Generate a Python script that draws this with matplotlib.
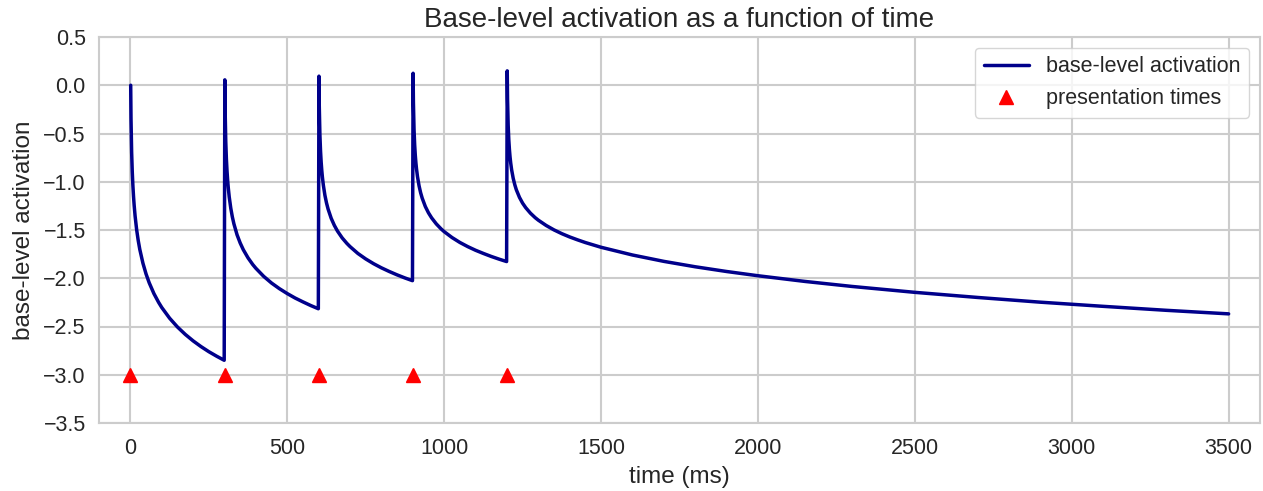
import matplotlib
matplotlib.use("Agg")
import matplotlib.pyplot as plt
import seaborn as sns

# presentation times of the item (ms)
presentation_times = [0, 300, 600, 900, 1200]
marker_level = [-3.0, -3.0, -3.0, -3.0, -3.0]

# time since the latest presentation at which the curve was read (ms)
offsets = [1, 2, 3, 4, 5, 6, 8, 10, 12, 15, 20, 25, 30, 40, 50, 60, 75, 90,
           100, 125, 150, 175, 200, 225, 250, 275, 299]

# base-level activation, one list per interval
seg1_b = [0.0, -0.347, -0.549, -0.693, -0.805, -0.896, -1.040, -1.151, -1.242,
          -1.354, -1.498, -1.609, -1.701, -1.844, -1.956, -2.047, -2.159, -2.250,
          -2.303, -2.414, -2.505, -2.582, -2.649, -2.708, -2.761, -2.808, -2.850]
seg2_b = [0.056, -0.268, -0.454, -0.585, -0.684, -0.765, -0.890, -0.986, -1.063,
          -1.157, -1.275, -1.365, -1.437, -1.550, -1.635, -1.705, -1.789, -1.858,
          -1.897, -1.981, -2.050, -2.108, -2.159, -2.205, -2.245, -2.283, -2.316]
seg3_b = [0.094, -0.216, -0.392, -0.514, -0.607, -0.681, -0.796, -0.883, -0.953,
          -1.036, -1.141, -1.219, -1.282, -1.379, -1.452, -1.511, -1.582, -1.639,
          -1.672, -1.743, -1.800, -1.849, -1.892, -1.930, -1.965, -1.997, -2.025]
seg4_b = [0.124, -0.176, -0.344, -0.460, -0.548, -0.618, -0.725, -0.806, -0.870,
          -0.947, -1.042, -1.114, -1.170, -1.257, -1.322, -1.374, -1.437, -1.488,
          -1.517, -1.578, -1.629, -1.672, -1.710, -1.743, -1.774, -1.802, -1.827]

# after the last presentation the curve runs on to 3500 ms
tail_offsets = offsets[:-1] + [300, 400, 500, 600, 700, 800, 950, 1100, 1300,
                               1500, 1700, 1900, 2100, 2300]
seg5_b = [0.149, -0.142, -0.304, -0.415, -0.499, -0.566, -0.667, -0.744, -0.804,
          -0.876, -0.964, -1.030, -1.083, -1.162, -1.222, -1.269, -1.326, -1.372,
          -1.398, -1.453, -1.499, -1.538, -1.572, -1.602, -1.630, -1.655,
          -1.679, -1.759, -1.825, -1.881, -1.930, -1.974, -2.033, -2.085, -2.146,
          -2.199, -2.248, -2.291, -2.332, -2.369]

time_ms = []
activation = []
for start, values in zip(presentation_times[:4], [seg1_b, seg2_b, seg3_b, seg4_b]):
    time_ms += [start + s for s in offsets]
    activation += values
time_ms += [presentation_times[4] + s for s in tail_offsets]
activation += seg5_b

sns.set_style("whitegrid")
plt.rcParams["font.family"] = ["Liberation Sans", "DejaVu Sans"]
plt.rcParams["text.color"] = ".15"
plt.rcParams["axes.labelcolor"] = ".15"
plt.rcParams["xtick.color"] = ".15"
plt.rcParams["ytick.color"] = ".15"

fig, ax = plt.subplots(figsize=(12.63, 4.91), dpi=100)
fig.subplots_adjust(left=99 / 1263, right=1260 / 1263, top=1 - 37 / 491, bottom=1 - 423 / 491)

ax.plot(time_ms, activation, color="darkblue", linewidth=2.5, label="base-level activation")
ax.plot(presentation_times, marker_level, "^", color="red", markersize=9.5,
        linestyle="none", label="presentation times")

ax.set_xlim(-100, 3600)
ax.set_ylim(-3.5, 0.5)
ax.set_xticks([0, 500, 1000, 1500, 2000, 2500, 3000, 3500])
ax.set_yticks([0.5, 0.0, -0.5, -1.0, -1.5, -2.0, -2.5, -3.0, -3.5])
ax.tick_params(axis="x", labelsize=15.5, pad=7)
ax.tick_params(axis="y", labelsize=15.5, pad=6)
for side in ax.spines.values():
    side.set_color(".8")
    side.set_linewidth(1.5)
ax.grid(True, color=".8", linewidth=1.5)

ax.set_title("Base-level activation as a function of time", fontsize=20, pad=7)
ax.set_xlabel("time (ms)", fontsize=17.5, labelpad=5)
ax.set_ylabel("base-level activation", fontsize=17.5, labelpad=6)
ax.legend(loc="upper right", fontsize=15.5, frameon=True, framealpha=0.8,
          handlelength=2.1)

fig.savefig("out.png", dpi=100)
